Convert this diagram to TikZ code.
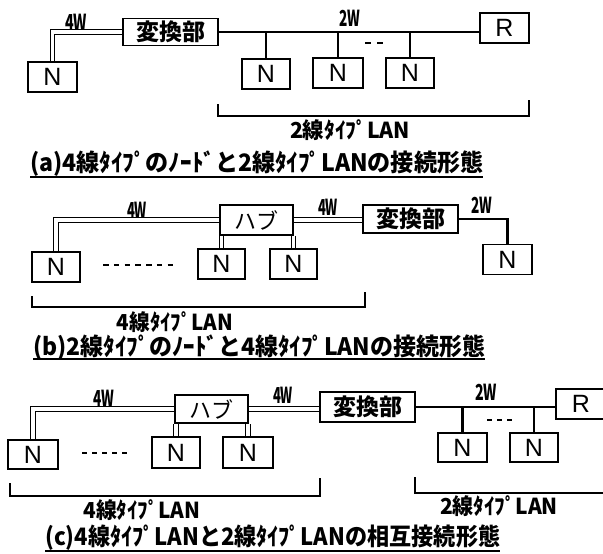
\documentclass[tikz,border=0pt]{standalone}
\usepackage{fontspec}
\usepackage{graphicx}
\newfontfamily\jp{Noto Sans CJK JP}
\newfontfamily\lsans{Liberation Sans}
\newcommand\fitw[2]{\resizebox{#1}{\height}{#2}}
\newcommand\nfont{\lsans\fontsize{25}{25}\selectfont}
\newcommand\cfont{\jp\bfseries\fontsize{23}{23}\selectfont}
\newcommand\hfont{\jp\fontsize{22}{22}\selectfont}
\newcommand\wfont{\jp\bfseries\fontsize{22}{22}\selectfont}
\newcommand\lanfont{\jp\bfseries\fontsize{22}{22}\selectfont}
\newcommand\capfont{\jp\bfseries\fontsize{24}{24}\selectfont}
\tikzset{
  box/.style={draw, line width=1.8pt, inner sep=0pt, minimum height=30pt},
  nbox/.style={box, minimum width=49pt, font=\nfont},
  cbox/.style={box, minimum width=95pt, minimum height=28pt, font=\cfont},
  hbox/.style={box, minimum width=73pt, minimum height=29pt, font=\hfont},
  dbl/.style={double, line width=1.2pt, double distance=3.2pt},
  two/.style={line width=2.5pt},
  thin/.style={line width=1.8pt},
  wlbl/.style={inner sep=0pt, font=\wfont},
  lanlbl/.style={inner sep=0pt, font=\lanfont},
  caplbl/.style={inner sep=0pt, anchor=west, font=\capfont},
}
\begin{document}
\begin{tikzpicture}[x=1pt, y=-1pt]
\useasboundingbox[fill=white] (0,0) rectangle (603,554);

% ---------- (a) ----------
\node[nbox] (Na0) at (52.5,77) {N};
\node[cbox, minimum height=27pt] (Ca) at (170.5,32) {変換部};
\node[nbox, minimum width=48pt] (Na1) at (266,74) {N};
\node[nbox, minimum width=50pt] (Na2) at (338,73) {N};
\node[nbox, minimum width=48pt] (Na3) at (410,73) {N};
\node[nbox] (Ra) at (504.5,28) {R};
\draw[dbl] (Na0.north) |- (Ca.west);
\draw[two] (Ca.east) -- (Ca.east -| Ra.west);
\draw[two] (Na1.north) -- (Na1.north |- Ca.east);
\draw[two] (Na2.north) -- (Na2.north |- Ca.east);
\draw[two] (Na3.north) -- (Na3.north |- Ca.east);
\draw[thin, dash pattern=on 6pt off 6pt] (365,43) -- (383,43);
\node[wlbl] (wa1) at (76,22) {\fitw{22pt}{4W}};
\node[wlbl] (wa2) at (350,18) {\fitw{21pt}{2W}};
\draw[thin] (218,104) -- (218,116) -- (529,116) -- (529,100);
\node[lanlbl] (lana) at (350,130) {\fitw{120pt}{2線ﾀｲﾌﾟLAN}};
\node[caplbl] (capa) at (30,164) {\fitw{453pt}{(a)4線ﾀｲﾌﾟのﾉｰﾄﾞと2線ﾀｲﾌﾟLANの接続形態}};
\draw[thin] (30,177) -- (483,177);

% ---------- (b) ----------
\node[nbox, minimum width=48pt] (Nb0) at (56,267) {N};
\node[hbox, minimum height=30pt] (Hb) at (256.5,220) {ハブ};
\node[nbox, minimum width=47pt] (Nb1) at (221.5,264) {N};
\node[nbox, minimum width=47pt] (Nb2) at (293.5,264) {N};
\node[cbox] (Cb) at (410.5,219) {変換部};
\node[nbox] (Nb3) at (507.5,259.5) {N};
\draw[dbl] (Hb.west) -| (Nb0.north);
\draw[dbl] (Nb1.north) -- (Nb1.north |- Hb.south);
\draw[dbl] (Nb2.north) -- (Nb2.north |- Hb.south);
\draw[dbl] (Hb.east) -- (Hb.east -| Cb.west);
\draw[two] (Cb.east) -| (Nb3.north);
\draw[thin, dash pattern=on 5.5pt off 5.25pt] (103,265) -- (173,265);
\node[wlbl] (wb1) at (137,210) {\fitw{20pt}{4W}};
\node[wlbl] (wb2) at (328,207) {\fitw{20pt}{4W}};
\node[wlbl] (wb3) at (482,205) {\fitw{21pt}{2W}};
\draw[thin] (32,296) -- (32,307) -- (365,307) -- (365,292);
\node[lanlbl] (lanb) at (175,322) {\fitw{116pt}{4線ﾀｲﾌﾟLAN}};
\node[caplbl] (capb) at (33,348) {\fitw{452pt}{(b)2線ﾀｲﾌﾟのﾉｰﾄﾞと4線ﾀｲﾌﾟLANの接続形態}};
\draw[thin] (33,359) -- (485,359);

% ---------- (c) ----------
\node[nbox, minimum width=50pt, minimum height=29pt] (Nc0) at (33,454.5) {N};
\node[hbox, minimum height=28pt] (Hc) at (211.5,409) {ハブ};
\node[nbox, minimum width=48pt, minimum height=31pt] (Nc1) at (176,452.5) {N};
\node[nbox, minimum width=50pt, minimum height=31pt] (Nc2) at (248,452.5) {N};
\node[cbox, minimum height=30pt] (Cc) at (367.5,407) {変換部};
\node[nbox, minimum height=29pt] (Nc3) at (462.5,447.5) {N};
\node[nbox, minimum width=48pt, minimum height=29pt] (Nc4) at (534,447.5) {N};
\node[nbox, minimum width=50pt] (Rc) at (581,404) {R};
\draw[dbl] (Hc.west) -| (Nc0.north);
\draw[dbl] (Nc1.north) -- (Nc1.north |- Hc.south);
\draw[dbl] (Nc2.north) -- (Nc2.north |- Hc.south);
\draw[dbl] (Hc.east) -- (Hc.east -| Cc.west);
\draw[two] (Cc.east) -- (Cc.east -| Rc.west);
\draw[two] (Nc3.north) -- (Nc3.north |- Cc.east);
\draw[two] (Nc4.north) -- (Nc4.north |- Cc.east);
\draw[thin, dash pattern=on 5pt off 5pt] (82,453) -- (130,453);
\draw[thin, dash pattern=on 5pt off 5pt] (487,420) -- (512,420);
\node[wlbl] (wc1) at (104,398) {\fitw{21pt}{4W}};
\node[wlbl] (wc2) at (283,395) {\fitw{20pt}{4W}};
\node[wlbl] (wc3) at (486,392) {\fitw{22pt}{2W}};
\draw[thin] (10,483) -- (10,496) -- (320,496) -- (320,478);
\draw[thin] (415,477) -- (415,493) -- (610,493);
\node[lanlbl] (lanc1) at (142,510) {\fitw{117pt}{4線ﾀｲﾌﾟLAN}};
\node[lanlbl] (lanc2) at (499,506) {\fitw{118pt}{2線ﾀｲﾌﾟLAN}};
\node[caplbl] (capc) at (45,538) {\fitw{455pt}{(c)4線ﾀｲﾌﾟLANと2線ﾀｲﾌﾟLANの相互接続形態}};
\draw[thin] (45,551) -- (500,551);
\end{tikzpicture}
\end{document}
